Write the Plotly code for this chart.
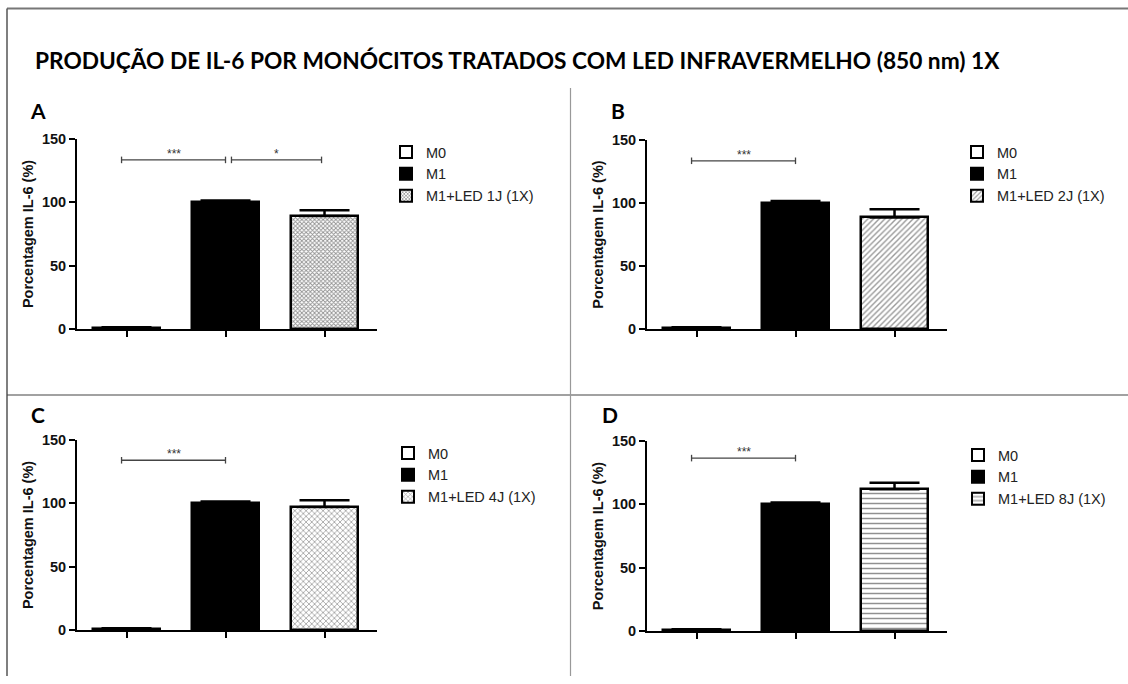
import plotly.graph_objects as go

# ---------------- data ----------------
title_text = "PRODUÇÃO DE IL-6 POR MONÓCITOS TRATADOS COM LED INFRAVERMELHO (850 nm) 1X"
panel_labels = ["A", "B", "C", "D"]
group_m0 = "M0"
group_m1 = "M1"
led_labels = ["M1+LED 1J (1X)", "M1+LED 2J (1X)", "M1+LED 4J (1X)", "M1+LED 8J (1X)"]
m0_means = [1.0, 1.0, 1.0, 1.0]
m0_err = [0.3, 0.3, 0.3, 0.3]
m1_means = [100.0, 100.0, 100.0, 100.0]
m1_err = [1.5, 1.5, 1.5, 1.5]
led_means = [89.2, 88.5, 97.1, 112.0]
led_err = [4.6, 6.6, 5.4, 5.0]
sig_pairs = [
    [(0, 1, "***"), (1, 2, "*")],
    [(0, 1, "***")],
    [(0, 1, "***")],
    [(0, 1, "***")],
]
sig_heights = [133.5, 133.5, 134.0, 136.5]
y_ticks = [0, 50, 100, 150]
y_title = "Porcentagem IL-6 (%)"

# ---------------- layout geometry (target picture pixels) ----------------
W, H = 1128, 684
TOP_PAD, V_SPAN = 8, 668   # vertical band of the photographed picture that the page fills


def fx(px):
    return min(max(px / W, 0.0), 1.0)


def fy(py):
    return min(max(1 - (py - TOP_PAD) / V_SPAN, 0.0), 1.0)


# (x0, x1, ytop, ybottom) plot areas
areas = [(77, 377, 139, 329), (647, 947, 140, 329), (77, 377, 440, 630), (647, 947, 441, 631)]
legend_pos = [(386, 136), (957, 136), (388, 437), (958, 439)]
label_pos = [(38, 110), (618, 110), (38, 414), (610, 415)]
patterns = [
    dict(shape="x", size=3, solidity=0.5, fgcolor="#222222", bgcolor="white"),
    dict(shape="/", size=4, solidity=0.35, fgcolor="#333333", bgcolor="white"),
    dict(shape="x", size=4, solidity=0.35, fgcolor="#333333", bgcolor="white"),
    dict(shape="-", size=5, solidity=0.3, fgcolor="#222222", bgcolor="white"),
]

FONT = "Liberation Sans, Arial, sans-serif"

fig = go.Figure()
layout_axes = {}
shapes = []
annotations = []

for i in range(4):
    ax = "" if i == 0 else str(i + 1)
    xref, yref = "x" + ax, "y" + ax
    leg = "legend" if i == 0 else "legend" + str(i + 1)
    cats = [group_m0, group_m1, led_labels[i]]
    means = [m0_means[i], m1_means[i], led_means[i]]
    errs = [m0_err[i], m1_err[i], led_err[i]]
    for k in range(3):
        mk = dict(line=dict(color="black", width=2.5))
        if k == 2:
            mk["color"] = "white"
            mk["pattern"] = patterns[i]
        else:
            mk["color"] = "white" if k == 0 else "black"
        fig.add_trace(go.Bar(
            x=[k], y=[means[k]], name=cats[k], width=0.68,
            marker=mk, xaxis=xref, yaxis=yref, legend=leg,
            error_y=dict(type="data", symmetric=False, array=[errs[k]], arrayminus=[0],
                         thickness=2.5, width=25, color="black"),
            showlegend=True,
        ))
    x0, x1, yt, yb = areas[i]
    layout_axes["xaxis" + ax] = dict(
        domain=[fx(x0), fx(x1)], anchor=yref, range=[-0.5, 2.53],
        showline=True, linecolor="black", linewidth=2,
        ticks="outside", ticklen=6, tickwidth=2, tickcolor="black",
        tickvals=[0, 1, 2], showticklabels=False, showgrid=False, zeroline=False,
        fixedrange=True,
    )
    layout_axes["yaxis" + ax] = dict(
        domain=[fy(yb), fy(yt)], anchor=xref, range=[0, 150],
        showline=True, linecolor="black", linewidth=2,
        ticks="outside", ticklen=6, tickwidth=2, tickcolor="black",
        tickvals=y_ticks, tickfont=dict(family=FONT, size=14.5, color="#111", weight="bold"),
        showgrid=False, zeroline=False,
        title=dict(text=y_title, font=dict(family=FONT, size=14.5, color="#111", weight="bold"),
                   standoff=5),
        fixedrange=True,
    )
    lx, ly = legend_pos[i]
    layout_axes[leg] = dict(
        x=fx(lx), y=fy(ly), xanchor="left", yanchor="top",
        font=dict(family=FONT, size=14.5, color="#222"), bgcolor="rgba(0,0,0,0)",
        tracegroupgap=0, itemsizing="constant",
    )
    # significance brackets
    h = sig_heights[i]
    for (a, b, lab) in sig_pairs[i]:
        xa = a - 0.05 if a == 0 else a + 0.06
        xb = b - 0.03 if b == 2 else b
        shapes.append(dict(type="line", xref=xref, yref=yref, x0=xa, x1=xb, y0=h, y1=h,
                           line=dict(color="#444", width=1.3)))
        for xe in (xa, xb):
            shapes.append(dict(type="line", xref=xref, yref=yref, x0=xe, x1=xe,
                               y0=h - 2.6, y1=h + 2.6, line=dict(color="#444", width=1.3)))
        annotations.append(dict(xref=xref, yref=yref, x=(xa + xb) / 2, y=h, text=lab,
                                showarrow=False, yanchor="bottom", yshift=-3,
                                font=dict(family=FONT, size=12, color="#333")))
    px, py = label_pos[i]
    annotations.append(dict(xref="paper", yref="paper", x=fx(px), y=fy(py),
                            text=panel_labels[i], showarrow=False, xanchor="center",
                            yanchor="middle",
                            font=dict(family="Lato, Open Sans, sans-serif", size=21,
                                      color="black", weight="bold")))

annotations.append(dict(xref="paper", yref="paper", x=fx(33), y=fy(60),
                        text=title_text, showarrow=False, xanchor="left", yanchor="middle",
                        font=dict(family="Lato, Open Sans, sans-serif", size=22.7,
                                  color="black", weight="bold")))

# frame and dividers
shapes += [
    dict(type="line", xref="paper", yref="paper", x0=fx(7), x1=1, y0=fy(8.5), y1=fy(8.5),
         line=dict(color="#777", width=2)),
    dict(type="line", xref="paper", yref="paper", x0=fx(7), x1=fx(7), y0=0, y1=fy(8.5),
         line=dict(color="#555", width=1.5)),
    dict(type="line", xref="paper", yref="paper", x0=fx(7), x1=1, y0=fy(395), y1=fy(395),
         line=dict(color="#444", width=1.2)),
    dict(type="line", xref="paper", yref="paper", x0=fx(570.5), x1=fx(570.5), y0=0, y1=fy(88),
         line=dict(color="#999", width=1.2)),
]

fig.update_layout(
    width=W, height=H, autosize=False,
    margin=dict(l=0, r=0, t=0, b=0),
    paper_bgcolor="white", plot_bgcolor="white",
    barmode="overlay", bargap=0,
    shapes=shapes, annotations=annotations,
    **layout_axes,
)

fig.write_html(
    "out.html",
    config={"displayModeBar": False},
    post_script="document.body.style.margin='0';document.documentElement.style.overflow='hidden';",
)
